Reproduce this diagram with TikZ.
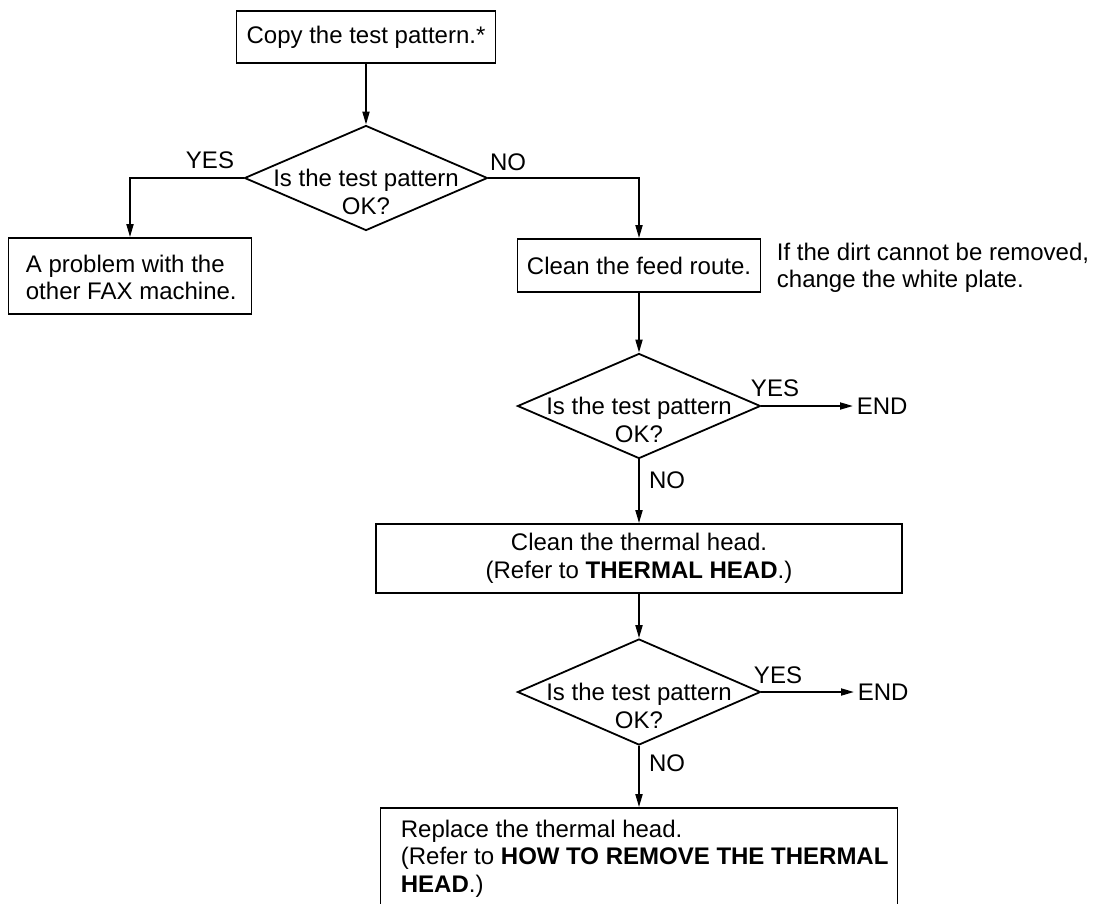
\documentclass[tikz,border=0pt]{standalone}
\usepackage{fontspec}
\setmainfont{Liberation Sans}
\usetikzlibrary{arrows.meta,shapes.geometric,calc}
\begin{document}
\begin{tikzpicture}[x=1pt,y=-1pt,
  font=\fontsize{24}{27.5}\selectfont,
  line width=1.8pt,
  box/.style={draw, line width=1.8pt, inner sep=0pt, align=center},
  dec/.style={draw, diamond, line width=1.8pt, minimum width=243pt, minimum height=105pt, inner sep=0pt},
  arr/.style={-{Triangle[length=13pt,width=7pt]}},
  lbl/.style={inner sep=0pt}]
\useasboundingbox (0,0) rectangle (1094,903);
\clip (0,0) rectangle (1094,903);

% nodes
\node[box, minimum width=259pt, minimum height=52pt] (copy) at (366,37) {Copy the test pattern.*};

\node[dec] (d1) at (366,178) {};
\node[lbl, align=center] (d1t) at (366,192) {Is the test pattern\\OK?};
\node[lbl] (yes1) at (210,160) {YES};
\node[lbl] (no1) at (508,162) {NO};

\node[box, minimum width=243pt, minimum height=76pt] (fax) at (130,276) {};
\node[lbl, anchor=west, align=left] (faxt) at (25,277.5) {A problem with the\\other FAX machine.};

\node[box, minimum width=243pt, minimum height=53pt] (feed) at (639,265.5) {Clean the feed route.};
\node[lbl, anchor=west, align=left] (note) at (776,268) {If the dirt cannot be removed,\\change the white plate.};

\node[dec] (d2) at (639,406) {};
\node[lbl, align=center] (d2t) at (639,420) {Is the test pattern\\OK?};
\node[lbl] (yes2) at (775,388) {YES};
\node[lbl, anchor=west] (end1) at (856,406) {END};
\node[lbl] (no2) at (667,480) {NO};

\node[box, minimum width=526pt, minimum height=69pt] (thermal) at (639,558.5) {Clean the thermal head.\\(Refer to \textbf{THERMAL HEAD}.)};

\node[dec, minimum height=106pt] (d3) at (639,692) {};
\node[lbl, align=center] (d3t) at (639,706) {Is the test pattern\\OK?};
\node[lbl] (yes3) at (778,675) {YES};
\node[lbl, anchor=west] (end2) at (857,692) {END};
\node[lbl] (no3) at (667,763) {NO};

\node[box, minimum width=517pt, minimum height=152pt] (replace) at (639,884) {};
\node[lbl, anchor=north west, align=left] (replacet) at (400,819) {Replace the thermal head.\\(Refer to \textbf{HOW TO REMOVE THE THERMAL}\\\textbf{HEAD}.)};

% connectors
\draw[arr] (copy.south) -- (d1.north);
\draw[arr] (d1.west) -| (fax.north);
\draw[arr] (d1.east) -| (feed.north);
\draw[arr] (feed.south) -- (d2.north);
\draw[arr, shorten >=3pt] (d2.east) -- (end1.west);
\draw[arr] (d2.south) -- (thermal.north);
\draw[arr] (thermal.south) -- (d3.north);
\draw[arr, shorten >=3pt] (d3.east) -- (end2.west);
\draw[arr] (d3.south) -- (replace.north);
\end{tikzpicture}
\end{document}
